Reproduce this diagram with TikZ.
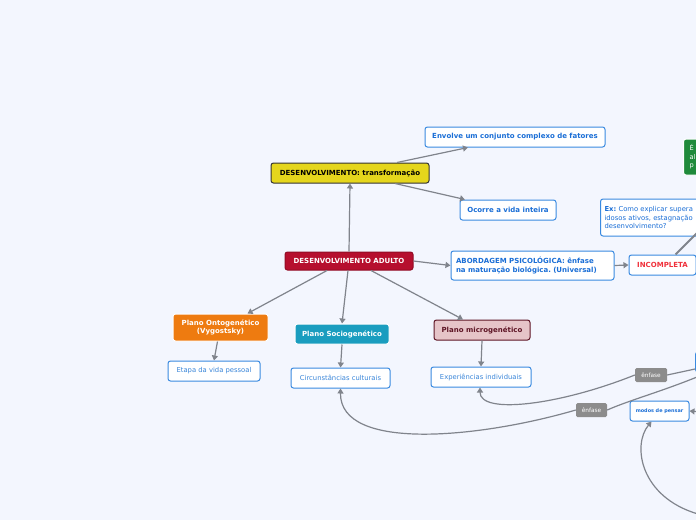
\documentclass[tikz,border=0pt]{standalone}
\usepackage{fontspec}
\setmainfont{DejaVu Sans}
\usetikzlibrary{arrows.meta,calc}
\frenchspacing
\definecolor{bgc}{RGB}{243,246,254}
\definecolor{conncol}{RGB}{128,132,140}
\definecolor{bluebd}{RGB}{58,138,224}
\definecolor{bluetx}{RGB}{26,110,214}
\definecolor{bluelt}{RGB}{58,134,217}
\definecolor{yel}{RGB}{229,214,28}
\definecolor{crim}{RGB}{182,15,46}
\definecolor{orng}{RGB}{238,123,16}
\definecolor{teal}{RGB}{26,157,191}
\definecolor{pnk}{RGB}{230,196,200}
\definecolor{maroon}{RGB}{94,21,37}
\definecolor{grn}{RGB}{31,138,59}
\definecolor{redtx}{RGB}{240,48,58}
\definecolor{enf}{RGB}{140,140,140}
\tikzset{
  box/.style={draw, rounded corners=2.5pt, inner sep=0pt, line width=1pt,
    font=\fontsize{7}{8.6}\selectfont\bfseries, align=center},
  wbox/.style={box, fill=white, draw=bluebd, text=bluetx},
  lbox/.style={box, fill=white, draw=bluebd, text=bluelt, font=\fontsize{6.8}{8.2}\selectfont},
  ybox/.style={box, fill=yel, draw=black!80, text=black},
  cbox/.style={box, fill=crim, draw=crim!80!black, text=white},
  obox/.style={box, fill=orng, draw=white, text=white},
  tbox/.style={box, fill=teal, draw=white, text=white},
  pbox/.style={box, fill=pnk, draw=maroon, text=maroon},
  gbox/.style={box, fill=grn, draw=white, text=white, font=\fontsize{6.6}{8.6}\selectfont},
  enfl/.style={fill=enf, rounded corners=1.5pt, inner sep=0pt, minimum width=32pt,
    minimum height=14pt, text=white, font=\fontsize{5.8}{6}\selectfont},
  conn/.style={draw=conncol, line width=1.2pt},
  arr/.style={conn, -{Triangle[length=5pt,width=6pt]}},
}
\begin{document}
\begin{tikzpicture}[x=1pt,y=-1pt]
\fill[bgc] (0,0) rectangle (696,520);
\useasboundingbox (0,0) rectangle (696,520);
\clip (0,0) rectangle (696,520);

% nodes
\node[ybox, minimum width=158pt, minimum height=20pt] (trans) at (350,173) {DESENVOLVIMENTO: transformação};
\node[wbox, minimum width=180pt, minimum height=20pt] (envolve) at (515,137) {Envolve um conjunto complexo de fatores};
\node[wbox, minimum width=96pt, minimum height=20pt] (ocorre) at (508,210) {Ocorre a vida inteira};
\node[cbox, minimum width=128pt, minimum height=18pt] (adulto) at (349,261) {DESENVOLVIMENTO ADULTO};
\node[wbox, minimum width=163pt, minimum height=29pt, align=left, text width=153pt] (abord) at (532.5,265.5) {ABORDAGEM PSICOLÓGICA: ênfase\\na maturação biológica. (Universal)};
\node[wbox, minimum width=67pt, minimum height=20pt, text=redtx] (incomp) at (662.5,265) {INCOMPLETA};
\node[lbox, anchor=west, minimum width=200pt, minimum height=37pt, align=left, text width=192pt, text=bluetx] (ex) at (600,217.5) {\textbf{Ex:} Como explicar supera\\idosos ativos, estagnação\\desenvolvimento?};
\node[gbox, anchor=west, minimum width=100pt, minimum height=36pt, align=left, text width=88pt] (green) at (683,157) {É\\al\\p};
\node[obox, minimum width=95pt, minimum height=27pt] (onto) at (220.5,327.5) {Plano Ontogenético\\(Vygostsky)};
\node[lbox, minimum width=92pt, minimum height=20pt] (etapa) at (214,371) {Etapa da vida pessoal};
\node[tbox, minimum width=94pt, minimum height=20pt] (socio) at (342,334) {Plano Sociogenético};
\node[lbox, minimum width=99pt, minimum height=20pt] (circ) at (340.5,378) {Circunstâncias culturais};
\node[pbox, minimum width=96pt, minimum height=20pt] (micro) at (482,330) {Plano microgenético};
\node[lbox, minimum width=100pt, minimum height=20pt] (exper) at (481,377) {Experiências individuais};
\node[wbox, minimum width=59pt, minimum height=20pt, font=\fontsize{4.9}{5}\selectfont\bfseries] (modos) at (659.5,411) {modos de pensar};
\node[lbox, anchor=west, minimum width=100pt, minimum height=20pt] (rbox) at (695,362) {};
\node[enfl] (enf1) at (651,375) {ênfase};
\node[enfl, minimum width=31pt] (enf2) at (591.5,410) {ênfase};

\coordinate (rin) at (702,228);
\coordinate (rmod) at (702,412);
\coordinate (rlow) at (697,377);
\coordinate (rbot) at (698,514);

% connectors
\draw[arr] (adulto.north) -- (trans.south);
\draw[arr] ([xshift=47pt]trans.north) -- ([xshift=-47pt]envolve.south);
\draw[arr] ([xshift=45pt]trans.south) -- ([xshift=-43pt]ocorre.north);
\draw[arr] (adulto.east) -- (abord.west);
\draw[arr] (abord.east) -- (incomp.west);
\draw[conn, line width=1.8pt] ([xshift=13pt]incomp.north) -- (rin);
\draw[arr] ([xshift=-22pt]adulto.south) -- ([xshift=27pt]onto.north);
\draw[arr] ([xshift=-1pt]adulto.south) -- (socio.north);
\draw[arr] ([xshift=22pt]adulto.south) -- ([xshift=-19pt]micro.north);
\draw[arr] ([xshift=-3pt]onto.south) -- (etapa.north);
\draw[arr] (socio.south) -- (circ.north);
\draw[arr] (micro.south) -- (exper.north);
\draw[arr] (rmod) -- (modos.east);

\draw[conn] ([yshift=-7pt]rbox.west) -- (enf1.east);
\draw[arr] (enf1.west) .. controls (560,405) and (480,415) .. ([xshift=-1pt]exper.south);
\draw[conn] (rlow) .. controls (660,392) and (630,400) .. (enf2.east);
\draw[arr] (enf2.west) .. controls (480,438) and (340,452) .. (circ.south);
\draw[arr] (rbot) .. controls (640,497) and (632,445) .. ([xshift=-8pt]modos.south);
\end{tikzpicture}
\end{document}
